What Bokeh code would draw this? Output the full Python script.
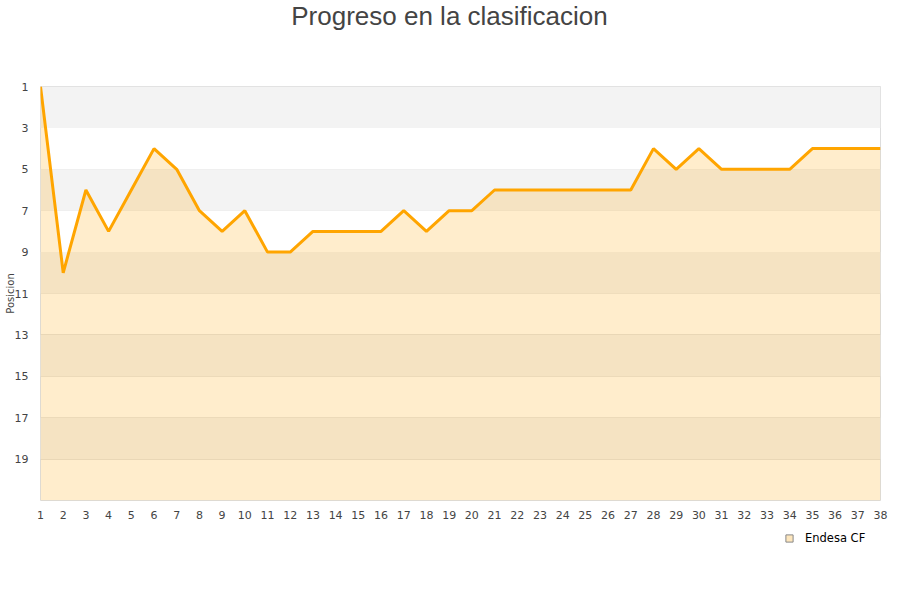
from bokeh.plotting import figure
from bokeh.layouts import column
from bokeh.models import Range1d, FixedTicker, Legend, LegendItem, Label
from bokeh.embed import file_html
from bokeh.resources import INLINE

jornadas = list(range(1, 39))
posiciones = [1, 10, 6, 8, 6, 4, 5, 7, 8, 7, 9, 9, 8, 8, 8, 8, 7, 8, 7, 7,
              6, 6, 6, 6, 6, 6, 6, 4, 5, 4, 5, 5, 5, 5, 4, 4, 4, 4]
y_ticks = [1, 3, 5, 7, 9, 11, 13, 15, 17, 19]
y_min, y_max = 1, 21
team = "Endesa CF"
title = "Progreso en la clasificacion"

# title strip
head = figure(width=890, height=40, output_backend="svg", toolbar_location=None,
              x_range=Range1d(0, 1), y_range=Range1d(0, 1),
              x_axis_type=None, y_axis_type=None, min_border=0)
head.outline_line_color = None
head.grid.visible = False
head.add_layout(Label(x=409, y=25, x_units="screen", y_units="screen", text=title,
                      text_align="center", text_baseline="middle",
                      text_font="Liberation Sans", text_font_size="26px",
                      text_color="#444444"))

fig = figure(width=890, height=490, output_backend="svg", toolbar_location=None,
             x_range=Range1d(1, 38), y_range=Range1d(y_max, y_min),
             min_border_left=40, min_border_right=10, min_border_top=46, min_border_bottom=30)

# alternating bands
band_bottoms = y_ticks[0::2]
fig.hbar(y=[b + 1 for b in band_bottoms], height=2, left=1, right=38,
         fill_color="#f3f3f3", line_color=None)

fig.varea(x=jornadas, y1=posiciones, y2=[y_max] * len(jornadas),
          fill_color="#ffa500", fill_alpha=0.2)
fig.line(jornadas, posiciones, line_color="#ffa500", line_width=3)

fig.outline_line_color = "#dddddd"
fig.xgrid.visible = False
fig.ygrid.ticker = FixedTicker(ticks=y_ticks)
fig.ygrid.grid_line_color = "#dddddd"
fig.ygrid.grid_line_alpha = 0.8

fig.xaxis.ticker = FixedTicker(ticks=jornadas)
fig.yaxis.ticker = FixedTicker(ticks=y_ticks)
for ax in (fig.xaxis, fig.yaxis):
    ax.axis_line_color = None
    ax.major_tick_line_color = None
    ax.minor_tick_line_color = None
    ax.major_label_text_font = "DejaVu Sans"
    ax.major_label_text_font_size = "11px"
    ax.major_label_text_color = "#444444"
fig.xaxis.major_label_standoff = 4
fig.yaxis.major_label_standoff = 6
fig.yaxis.axis_label = "Posicion"
fig.yaxis.axis_label_text_font = "DejaVu Sans"
fig.yaxis.axis_label_text_font_size = "10px"
fig.yaxis.axis_label_text_font_style = "normal"
fig.yaxis.axis_label_text_color = "#444444"
fig.yaxis.axis_label_standoff = -4

# legend strip
leg = figure(width=890, height=60, output_backend="svg", toolbar_location=None,
             x_range=Range1d(0, 1), y_range=Range1d(0, 1),
             x_axis_type=None, y_axis_type=None, min_border=0)
leg.outline_line_color = None
leg.grid.visible = False
dummy = leg.scatter(x=[5], y=[5], marker="square", size=9,
                    fill_color="#fde6bd", line_color="#888888")
legend = Legend(items=[LegendItem(label=team, renderers=[dummy])],
                location=(740, 43), orientation="horizontal",
                background_fill_alpha=0, border_line_color=None,
                label_text_font="DejaVu Sans", label_text_font_size="11.5px",
                label_text_color="#000000", glyph_width=18, glyph_height=18,
                label_standoff=7, padding=2, spacing=2, margin=0)
leg.add_layout(legend, "center")

p = column(head, fig, leg, spacing=0)
open("out.html", "w").write(file_html(p, INLINE))
